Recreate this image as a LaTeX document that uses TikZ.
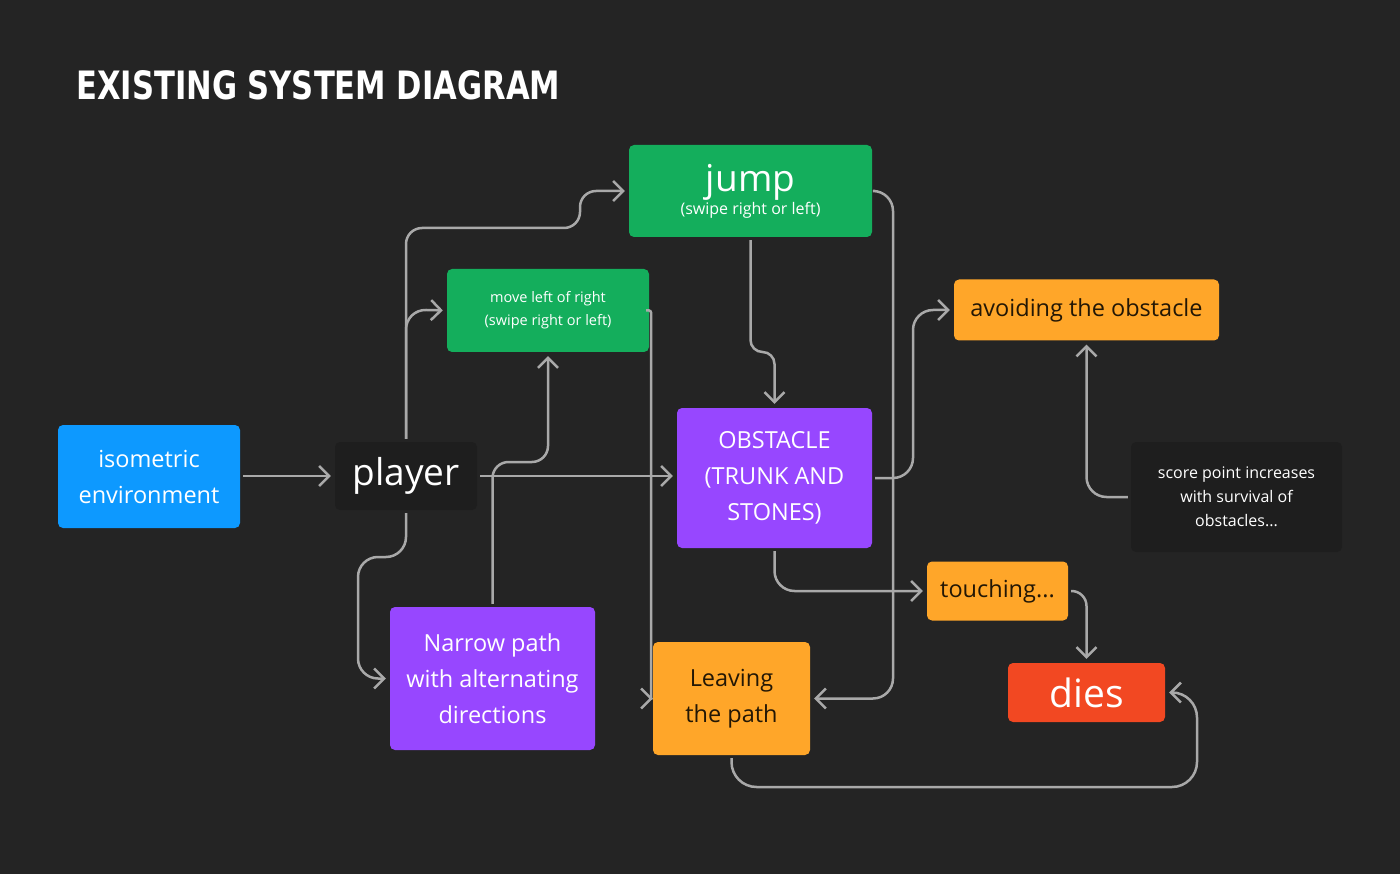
\documentclass[tikz,border=0pt]{standalone}
\usepackage{fontspec}
\setmainfont{Open Sans}
\newfontfamily\titlefont{DejaVu Sans}
\usepackage{graphicx}
\usetikzlibrary{arrows.meta}
\definecolor{bgdark}{HTML}{242424}
\definecolor{boxdark}{HTML}{1E1E1E}
\definecolor{figblue}{HTML}{0D99FF}
\definecolor{figgreen}{HTML}{14AE5C}
\definecolor{figpurple}{HTML}{9747FF}
\definecolor{figorange}{HTML}{FFA629}
\definecolor{figred}{HTML}{F24822}
\definecolor{darktext}{HTML}{231705}
\definecolor{linegray}{HTML}{A9A9A9}

\begin{document}
\begin{tikzpicture}[x=1pt, y=-1pt,
    box/.style={rectangle, rounded corners=5pt, inner sep=0pt, align=center, text=white},
    conn/.style={draw=linegray, line width=2.5pt, rounded corners=20pt,
        shorten <=3pt, shorten >=4pt, -{Straight Barb[length=10pt, width=20pt]}},
    txt/.style={font=\fontsize{23.5}{36}\selectfont}]
    % Background
    \fill[bgdark] (0,0) rectangle (1400,874);
    \useasboundingbox (0,0) rectangle (1400,874);
    \node[anchor=north west, inner sep=0pt, text=white] (title) at (76,70)
        {\resizebox{484pt}{29pt}{\titlefont\bfseries EXISTING SYSTEM DIAGRAM}};

    % Nodes
    \node [box, txt, fill=figblue, minimum width=182pt, minimum height=103pt] (iso) at (149,476.5) {isometric\\environment};
    \node [box, fill=boxdark, minimum width=142pt, minimum height=68pt, font=\fontsize{37}{40}\selectfont] (player) at (406,476) {player};
    \node [box, fill=figgreen, minimum width=243pt, minimum height=92pt] (jump) at (750.5,191)
        {\fontsize{37}{40}\selectfont jump\\[1pt]\fontsize{16}{20}\selectfont (swipe right or left)};
    \node [box, fill=figgreen, minimum width=202pt, minimum height=83pt, font=\fontsize{14.5}{23}\selectfont] (move) at (548,310.5) {move left of right\\(swipe right or left)};
    \node [box, txt, fill=figpurple, minimum width=195pt, minimum height=140pt] (obst) at (774.5,478) {OBSTACLE\\(TRUNK AND\\STONES)};
    \node [box, txt, fill=figorange, text=darktext, minimum width=265pt, minimum height=61pt] (avoid) at (1086.5,310) {avoiding the obstacle};
    \node [box, fill=boxdark, minimum width=211pt, minimum height=110pt, font=\fontsize{16}{24}\selectfont] (score) at (1236.5,497) {score point increases\\with survival of\\obstacles...};
    \node [box, txt, fill=figorange, text=darktext, minimum width=141pt, minimum height=59pt] (touch) at (997.5,591) {touching...};
    \node [box, fill=figred, minimum width=157pt, minimum height=59pt, font=\fontsize{39}{42}\selectfont] (dies) at (1086.5,692.5) {dies};
    \node [box, txt, fill=figpurple, minimum width=205pt, minimum height=143pt] (narrow) at (492.5,678.5) {Narrow path\\with alternating\\directions};
    \node [box, txt, fill=figorange, text=darktext, minimum width=157pt, minimum height=113pt] (leave) at (731.5,698.5) {Leaving\\the path};

    % Arrows
    \draw [conn] (iso.east |- player.west) -- (player.west);
    \draw [conn, rounded corners=16pt] (player.north) -- (406,228) -- (580,228) -- (580,191) -- (jump.west);
    \draw [conn] (player.north) -- (406,309.5) -- (move.west);
    \draw [conn] (player.east) -- (player.east -| obst.west);
    \draw [conn] (player.south) -- (406,557) -- (358,557) -- (358,678.5) -- (narrow.west);
    \draw [conn, rounded corners=16pt] (narrow.north) -- (492.5,462) -- (548,462) -- (move.south);
    \draw [conn, rounded corners=2pt, shorten >=0pt] (move.east) -- (651,310.5) [sharp corners] -- (651,698.5) -- (leave.west);
    \draw [conn, rounded corners=12pt] (jump.south) -- (750.5,352) -- (774.5,352) -- (obst.north);
    \draw [conn] (jump.east) -- (893,191) -- (893,698.5) -- (leave.east);
    \draw [conn] (obst.east) -- (913,478) -- (913,310) -- (avoid.west);
    \draw [conn] (score.west) -| (avoid.south);
    \draw [conn] (obst.south) |- (touch.west);
    \draw [conn, rounded corners=15pt] (touch.east) -| (dies.north);
    \draw [conn, rounded corners=25pt] (leave.south) -- (731.5,787) -- (1197,787) -- (1197,692.5) -- (dies.east);
\end{tikzpicture}
\end{document}
